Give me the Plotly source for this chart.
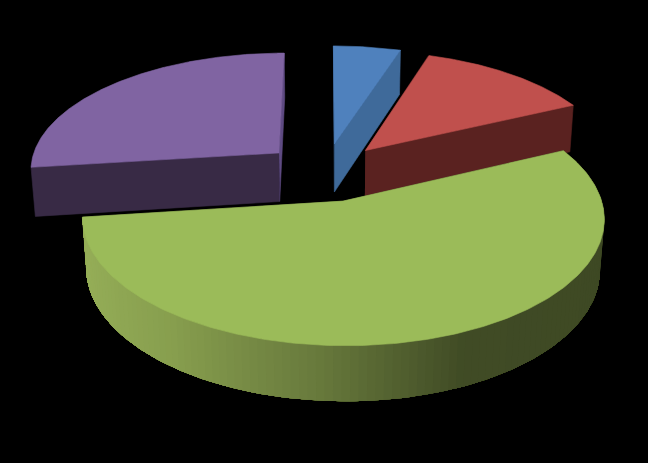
import numpy as np
import plotly.graph_objects as go

categories = ["Blue", "Red", "Green", "Purple"]
values = [5, 13, 55, 27]
top_colors = ["#4f81bd", "#c0504d", "#9bbb59", "#8064a2"]
end_cut_colors = ["#3f6a9a", "#5a2220", "#3f4a24", "#5e4a82"]
start_cut_colors = ["#3f6a9a", "#5a2220", "#3f4a24", "#382a45"]

CX, CY, RX, RY, K, KZ, H, EXPLODE = 325, 172, 250.5, 117.5, 0.13, 0.015, 50, 0.25


def project(X, Y, Z=0.0):
    X = np.asarray(X, dtype=float)
    Y = np.asarray(Y, dtype=float)
    w = 1 + K * Y + KZ * Z
    return CX + RX * X / w, CY + (H * Z - RY * Y) / w


def lerp_color(t, stops):
    xs = [s[0] for s in stops]
    rgb = [np.interp(t, xs, [s[1][i] for s in stops]) for i in range(3)]
    return "rgb(%d,%d,%d)" % tuple(int(round(c)) for c in rgb)


side_stops = [(-1.0, (150, 175, 88)), (-0.6, (135, 158, 78)), (-0.1, (104, 122, 60)),
              (0.4, (64, 75, 37)), (1.0, (62, 73, 36))]

fig = go.Figure()


def poly(xs, ys, color, name, lw=0.6):
    fig.add_trace(go.Scatter(x=list(xs), y=list(ys), mode="lines", fill="toself", fillcolor=color,
                             line=dict(color=color, width=lw), name=name, hoverinfo="name",
                             showlegend=False))


fractions = np.array(values, dtype=float) / sum(values)
ends = np.cumsum(fractions) * 2 * np.pi
starts = ends - fractions * 2 * np.pi

# draw back slices first, the big front slice on top
for i in [3, 0, 1, 2]:
    a0, a1 = starts[i], ends[i]
    mid = (a0 + a1) / 2
    ox, oy = EXPLODE * np.sin(mid), EXPLODE * np.cos(mid)
    th = np.linspace(a0, a1, 240)
    rimX, rimY = ox + np.sin(th), oy + np.cos(th)

    # start and end cut faces
    for a, col in ((a0, start_cut_colors[i]), (a1, end_cut_colors[i])):
        ex, ey = ox + np.sin(a), oy + np.cos(a)
        x0, y0 = project([ox, ex], [oy, ey], 0)
        x1, y1 = project([ex, ox], [ey, oy], 1)
        poly(np.r_[x0, x1], np.r_[y0, y1], col, categories[i])

    # curved outer wall: each colour band runs on to the far end of the arc,
    # and the next band paints over it, so no seams show between bands
    if categories[i] == "Green":
        step = 2
        for j in range(0, len(th) - 1, step):
            xa, ya = project(rimX[j:], rimY[j:], 0)
            xb, yb = project(rimX[j:][::-1], rimY[j:][::-1], 1)
            col = lerp_color(np.sin(th[min(j + step // 2, len(th) - 1)]), side_stops)
            poly(np.r_[xa, xb], np.r_[ya, yb], col, categories[i], lw=0)

    # top face
    xt, yt = project(np.r_[ox, rimX, ox], np.r_[oy, rimY, oy], 0)
    poly(xt, yt, top_colors[i], categories[i])

fig.update_layout(
    width=648, height=463, margin=dict(l=0, r=0, t=0, b=0),
    paper_bgcolor="black", plot_bgcolor="black", showlegend=False,
    xaxis=dict(range=[0, 648], visible=False, fixedrange=True),
    yaxis=dict(range=[463, 0], visible=False, fixedrange=True),
)
fig.write_html("out.html", config={"displayModeBar": False},
               post_script="document.body.style.margin='0';document.body.style.background='black';")
